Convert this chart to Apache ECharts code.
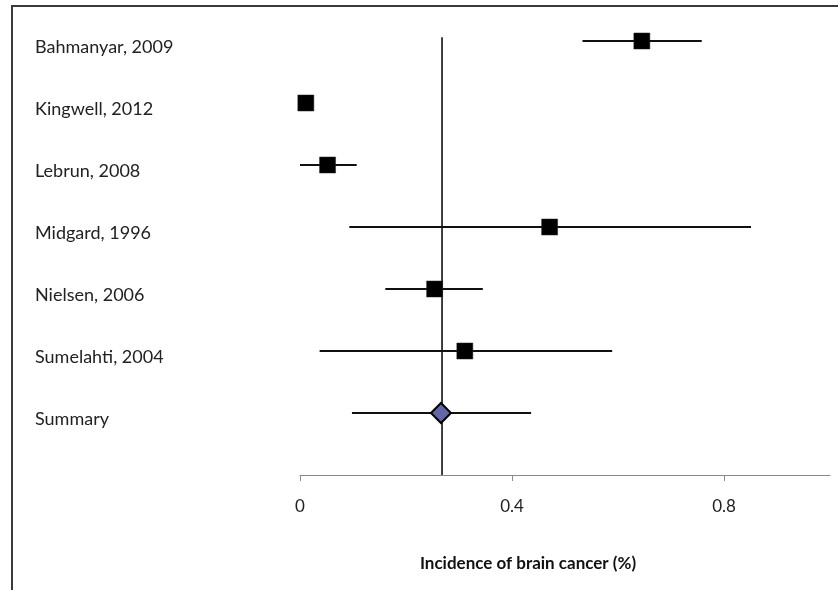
<!DOCTYPE html>
<html>
<head>
<meta charset="utf-8">
<script src="https://cdn.jsdelivr.net/npm/echarts@6/dist/echarts.min.js"></script>
<style>
html,body{margin:0;padding:0;background:#fff;}
#chart{width:838px;height:590px;}
</style>
</head>
<body>
<div id="chart"></div>
<script>
// Studies, listed top to bottom
const studies = ['Bahmanyar, 2009', 'Kingwell, 2012', 'Lebrun, 2008', 'Midgard, 1996', 'Nielsen, 2006', 'Sumelahti, 2004'];
const estimates = [0.645, 0.011, 0.052, 0.471, 0.254, 0.311];
const lowerCI   = [0.533, 0.004, 0.000, 0.093, 0.161, 0.037];
const upperCI   = [0.758, 0.020, 0.107, 0.851, 0.345, 0.589];
const summaryLabel = 'Summary';
const summaryEstimate = 0.266;
const summaryLower = 0.098;
const summaryUpper = 0.436;
const referenceLine = 0.268;
const xTicks = [0, 0.4, 0.8];
const xTitle = 'Incidence of brain cancer (%)';

const rowNames = studies.concat([summaryLabel]);
const nRows = rowNames.length;
const rowPos = rowNames.map((_, i) => nRows - i); // top row highest

const ciData = [];
rowNames.forEach((n, i) => {
  const lo = i < studies.length ? lowerCI[i] : summaryLower;
  const hi = i < studies.length ? upperCI[i] : summaryUpper;
  ciData.push([lo, hi, rowPos[i]]);
});
const squareData = studies.map((s, i) => [estimates[i], rowPos[i]]);
const diamondData = [[summaryEstimate, rowPos[nRows - 1]]];

const chart = echarts.init(document.getElementById('chart'));
const FONT = 'Lato';
chart.setOption({
  animation: false,
  backgroundColor: '#ffffff',
  grid: { left: 300, right: 8, top: 475 - 7.2 * 62, bottom: 115 },
  xAxis: {
    type: 'value', min: 0, max: 1,
    splitLine: { show: false },
    axisLine: { show: true, lineStyle: { color: '#8a8a8a', width: 1.2 } },
    axisTick: { show: true, customValues: xTicks, length: 6, lineStyle: { color: '#8a8a8a' } },
    axisLabel: { customValues: xTicks, margin: 23, color: '#222', fontFamily: FONT, fontSize: 17,
      formatter: v => (v === 0 ? '0' : String(v)) },
    name: xTitle, nameLocation: 'middle', nameGap: 80,
    nameTextStyle: { fontFamily: FONT, fontWeight: 'bold', fontSize: 17, color: '#111', padding: [0, 74, 0, 0] }
  },
  yAxis: {
    type: 'value', min: 0, max: 7.2,
    splitLine: { show: false },
    axisLine: { show: false },
    axisTick: { show: false },
    axisLabel: {
      customValues: rowPos,
      align: 'left', margin: 265,
      color: '#222', fontFamily: FONT, fontSize: 18,
      verticalAlign: 'top', lineHeight: 12,
      formatter: v => rowNames[nRows - v] || ''
    }
  },
  graphic: [{
    type: 'polyline', silent: true,
    shape: { points: [[12, 592], [12, 6], [840, 6]] },
    style: { stroke: '#3a3a3a', lineWidth: 2, fill: null }
  }],
  series: [
    {
      type: 'custom', silent: true, z: 2,
      data: [[referenceLine, 0, 7.06]],
      renderItem: (params, api) => {
        const p1 = api.coord([api.value(0), api.value(1)]);
        const p2 = api.coord([api.value(0), api.value(2)]);
        return { type: 'line', shape: { x1: p1[0], y1: p1[1], x2: p2[0], y2: p2[1] },
          style: { stroke: '#111', lineWidth: 1.6 } };
      }
    },
    {
      type: 'custom', silent: true, z: 3,
      data: ciData,
      renderItem: (params, api) => {
        const p1 = api.coord([api.value(0), api.value(2)]);
        const p2 = api.coord([api.value(1), api.value(2)]);
        return { type: 'line', shape: { x1: p1[0], y1: p1[1], x2: p2[0], y2: p2[1] },
          style: { stroke: '#111', lineWidth: 2 } };
      }
    },
    {
      type: 'scatter', z: 5, data: squareData,
      symbol: 'rect', symbolSize: 16,
      itemStyle: { color: '#000', borderColor: '#222', borderWidth: 0.5, opacity: 1 }
    },
    {
      type: 'scatter', z: 5, data: diamondData,
      symbol: 'diamond', symbolSize: [20, 20],
      itemStyle: { color: '#6467a6', borderColor: '#000', borderWidth: 2, opacity: 1 }
    }
  ]
});
</script>
</body>
</html>
